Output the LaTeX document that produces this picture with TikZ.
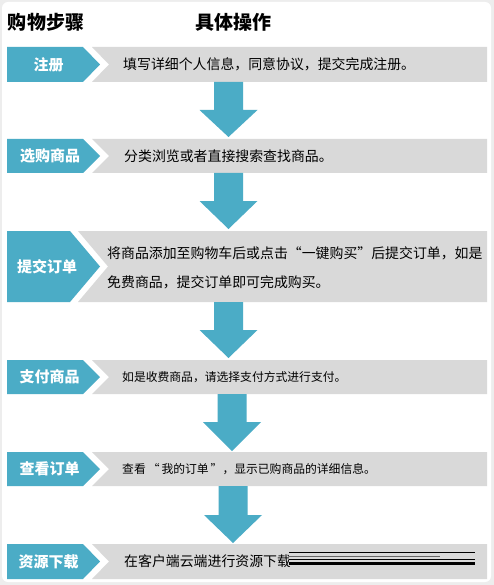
\documentclass[tikz,border=0pt]{standalone}
\usepackage{fontspec}
\newfontfamily\cjk{Noto Sans CJK SC}
\definecolor{stepblue}{HTML}{4BACC6}
\definecolor{stepgray}{HTML}{D9D9D9}
\definecolor{frame}{HTML}{EDEDED}
\tikzset{
  bluepart/.style={fill=stepblue,draw=none},
  graypart/.style={fill=stepgray,draw=none},
  downarrow/.style={fill=stepblue,draw=none},
  steplabel/.style={inner sep=0pt,text=white,font=\cjk\bfseries\fontsize{15}{15}\selectfont},
  steptext/.style={inner sep=0pt,anchor=west,text=black,font=\cjk\fontsize{13.9}{14}\selectfont},
  smalltext/.style={inner sep=0pt,anchor=west,text=black,font=\cjk\fontsize{11.8}{12}\selectfont},
  headtext/.style={inner sep=0pt,text=black,font=\cjk\bfseries\fontsize{19}{19}\selectfont},
}
% row macro: #1 top, #2 bottom, #3 blue right x, #4 tip x, #5 gray start x
\newcommand{\steprow}[5]{%
  \pgfmathsetmacro{\rc}{(#1+#2)/2}%
  \fill[bluepart] (7,#1) -- (#3,#1) -- (#4,\rc) -- (#3,#2) -- (7,#2) -- cycle;
  \fill[graypart] (#5,#1) -- (487,#1) -- (487,#2) -- (#5,#2) -- ({#5+#4-#3},\rc) -- cycle;
}
% arrow macro: #1 center x, #2 top, #3 head base, #4 tip
\newcommand{\blockarrow}[4]{%
  \fill[downarrow] ({#1-14.5},#2) -- ({#1+14.5},#2) -- ({#1+14.5},#3) -- ({#1+29},#3)
     -- (#1,#4) -- ({#1-29},#3) -- ({#1-14.5},#3) -- cycle;
}
\begin{document}
\begin{tikzpicture}[x=1pt,y=-1pt]
\useasboundingbox (0,0) rectangle (494,585);
\fill[frame] (0,0) rectangle (494,585);
\fill[white,rounded corners=6pt] (2,2) rectangle (491,582);

\node[headtext] (h1) at (46,22) {购物步骤};
\node[headtext] (h2) at (233.5,22) {具体操作};

% rows
\steprow{47}{82}{83}{100}{92}
\steprow{139}{173}{83}{100}{92}
\steprow{231}{302}{70}{100}{78}
\steprow{360}{394}{83}{100}{92}
\steprow{452}{486}{83}{100}{92}
\steprow{544}{579}{83}{100}{92}

% arrows
\blockarrow{228.5}{82}{110}{137}
\blockarrow{228.5}{173}{201}{229}
\blockarrow{228.5}{302}{330}{358}
\blockarrow{232}{394}{422}{451}
\blockarrow{233}{486}{515}{543}

% labels
\node[steplabel] (l1) at (48.5,64.5) {注册};
\node[steplabel] (l2) at (50,156) {选购商品};
\node[steplabel] (l3) at (47,267) {提交订单};
\node[steplabel] (l4) at (49.5,377) {支付商品};
\node[steplabel] (l5) at (49.5,469) {查看订单};
\node[steplabel] (l6) at (48.5,561.5) {资源下载};

% texts
\node[steptext] (t1) at (123,64.5) {填写详细个人信息，同意协议，提交完成注册。};
\node[steptext] (t2) at (124,156) {分类浏览或者直接搜索查找商品。};
\node[steptext] (t3a) at (107,253) {将商品添加至购物车后或点击“一键购买”后提交订单，如是};
\node[steptext] (t3b) at (107,282) {免费商品，提交订单即可完成购买。};
\node[smalltext] (t4) at (122,377) {如是收费商品，请选择支付方式进行支付。};
\node[smalltext] (t5) at (122,469) {查看\,“\,我的订单\,”，显示已购商品的详细信息。};
\node[steptext] (t6) at (124,561.5) {在客户端云端进行资源下载};

% rendering streaks over last row
\fill[stepgray] (289,550) rectangle (476,566);
\draw[black,line width=0.8pt] (289,552) -- (475,552);
\draw[black!60,line width=0.6pt] (289,556) -- (440,556);
\draw[black,line width=1pt] (289,559) -- (475,559);
\draw[black,line width=3pt] (289,563) -- (475,563);
\end{tikzpicture}
\end{document}
